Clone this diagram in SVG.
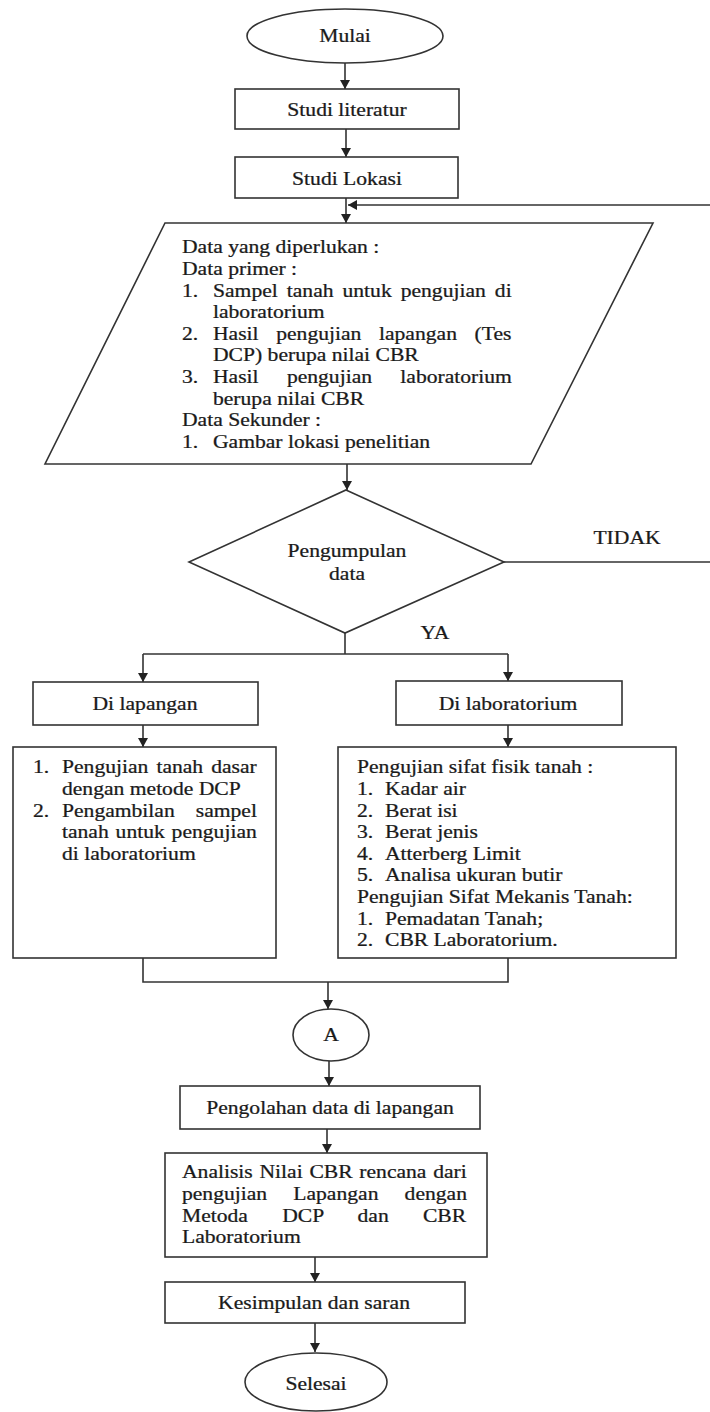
<svg xmlns="http://www.w3.org/2000/svg" width="710" height="1412" viewBox="0 0 710 1412">
<style>
.s{fill:#fff;stroke:#333;stroke-width:1.6}
.c{fill:none;stroke:#333;stroke-width:1.6}
text{font-family:"Liberation Serif","Times New Roman",serif;font-size:18px;fill:#1a1a1a;stroke:#1a1a1a;stroke-width:0.25}
.m{text-anchor:middle}
</style>
<defs>
<marker id="ah" markerUnits="userSpaceOnUse" markerWidth="10" markerHeight="11" refX="9" refY="5" orient="auto">
<path d="M0,0 L9,5 L0,10 Z" fill="#222"/>
</marker>
</defs>
<rect width="710" height="1412" fill="#fff"/>
<g id="connectors">
<line class="c" x1="345" y1="63" x2="345" y2="89" marker-end="url(#ah)"/>
<line class="c" x1="346" y1="129" x2="346" y2="157" marker-end="url(#ah)"/>
<line class="c" x1="346" y1="198" x2="346" y2="223" marker-end="url(#ah)"/>
<line class="c" x1="710" y1="205" x2="348" y2="205" marker-end="url(#ah)"/>
<line class="c" x1="347" y1="464" x2="347" y2="490" marker-end="url(#ah)"/>
<line class="c" x1="504" y1="562" x2="710" y2="562"/>
<polyline class="c" points="345,633 345,654"/>
<polyline class="c" points="143,654 508,654"/>
<line class="c" x1="143" y1="654" x2="143" y2="682" marker-end="url(#ah)"/>
<line class="c" x1="508" y1="654" x2="508" y2="681" marker-end="url(#ah)"/>
<line class="c" x1="143" y1="725" x2="143" y2="747" marker-end="url(#ah)"/>
<line class="c" x1="508" y1="725" x2="508" y2="747" marker-end="url(#ah)"/>
<polyline class="c" points="143,958 143,982 508,982 508,958"/>
<line class="c" x1="328" y1="982" x2="328" y2="1009" marker-end="url(#ah)"/>
<line class="c" x1="329" y1="1061" x2="329" y2="1086" marker-end="url(#ah)"/>
<line class="c" x1="327" y1="1129" x2="327" y2="1153" marker-end="url(#ah)"/>
<line class="c" x1="315" y1="1257" x2="315" y2="1282" marker-end="url(#ah)"/>
<line class="c" x1="315" y1="1323" x2="315" y2="1352" marker-end="url(#ah)"/>
</g>
<g id="mulai">
<ellipse class="s" cx="345" cy="36" rx="98" ry="27"/>
<g transform="scale(1.2 1)"><text class="m" x="287.5" y="42">Mulai</text></g>
</g>
<g id="studi-literatur">
<rect class="s" x="235" y="89" width="224" height="40"/>
<g transform="scale(1.2 1)"><text class="m" x="289.17" y="116">Studi literatur</text></g>
</g>
<g id="studi-lokasi">
<rect class="s" x="235" y="157" width="223" height="41"/>
<g transform="scale(1.2 1)"><text class="m" x="289.17" y="185">Studi Lokasi</text></g>
</g>
<g id="data">
<polygon class="s" points="165,223 653,223 531,464 45,464"/>
<g transform="scale(1.2 1)">
<text x="151.67" y="253.5">Data yang diperlukan :</text>
<text x="151.67" y="275.1">Data primer :</text>
<text x="151.67" y="296.7">1.</text>
<text x="177.5" y="296.7" style="word-spacing:3px">Sampel tanah untuk pengujian di</text>
<text x="177.5" y="318.3">laboratorium</text>
<text x="151.67" y="339.9">2.</text>
<text x="177.5" y="339.9" style="word-spacing:10.2px">Hasil pengujian lapangan (Tes</text>
<text x="177.5" y="361.5">DCP) berupa nilai CBR</text>
<text x="151.67" y="383.1">3.</text>
<text x="177.5" y="383.1" style="word-spacing:19.1px">Hasil pengujian laboratorium</text>
<text x="177.5" y="404.7">berupa nilai CBR</text>
<text x="151.67" y="426.3">Data Sekunder :</text>
<text x="151.67" y="447.9">1.</text>
<text x="177.5" y="447.9">Gambar lokasi penelitian</text>
</g>
</g>
<g id="pengumpulan">
<polygon class="s" points="346,490 504,562 345,633 189,562"/>
<g transform="scale(1.2 1)">
<text class="m" x="289.17" y="557">Pengumpulan</text>
<text class="m" x="289.17" y="580">data</text>
</g>
</g>
<g id="label-tidak"><g transform="scale(1.2 1)"><text class="m" x="522.5" y="544">TIDAK</text></g></g>
<g id="label-ya"><g transform="scale(1.2 1)"><text class="m" x="362.5" y="639">YA</text></g></g>
<g id="di-lapangan">
<rect class="s" x="33" y="682" width="225" height="43"/>
<g transform="scale(1.2 1)"><text class="m" x="120.83" y="710">Di lapangan</text></g>
</g>
<g id="di-laboratorium">
<rect class="s" x="396" y="681" width="226" height="44"/>
<g transform="scale(1.2 1)"><text class="m" x="423.33" y="710">Di laboratorium</text></g>
</g>
<g id="lapangan-detail">
<rect class="s" x="13" y="747" width="263" height="211"/>
<g transform="scale(1.2 1)">
<text x="27.5" y="773.5">1.</text>
<text x="51.67" y="773.5" style="word-spacing:2.2px">Pengujian tanah dasar</text>
<text x="51.67" y="795.1">dengan metode DCP</text>
<text x="27.5" y="816.7">2.</text>
<text x="51.67" y="816.7" style="word-spacing:13px">Pengambilan sampel</text>
<text x="51.67" y="838.3" style="word-spacing:1.2px">tanah untuk pengujian</text>
<text x="51.67" y="859.9">di laboratorium</text>
</g>
</g>
<g id="laboratorium-detail">
<rect class="s" x="338" y="747" width="338" height="211"/>
<g transform="scale(1.2 1)">
<text x="297.5" y="773.5">Pengujian sifat fisik tanah :</text>
<text x="297.5" y="795.1">1.</text><text x="320.83" y="795.1">Kadar air</text>
<text x="297.5" y="816.7">2.</text><text x="320.83" y="816.7">Berat isi</text>
<text x="297.5" y="838.3">3.</text><text x="320.83" y="838.3">Berat jenis</text>
<text x="297.5" y="859.9">4.</text><text x="320.83" y="859.9">Atterberg Limit</text>
<text x="297.5" y="881.5">5.</text><text x="320.83" y="881.5">Analisa ukuran butir</text>
<text x="297.5" y="903.1">Pengujian Sifat Mekanis Tanah:</text>
<text x="297.5" y="924.7">1.</text><text x="320.83" y="924.7">Pemadatan Tanah;</text>
<text x="297.5" y="946.3">2.</text><text x="320.83" y="946.3">CBR Laboratorium.</text>
</g>
</g>
<g id="konektor-a">
<ellipse class="s" cx="331" cy="1035" rx="38" ry="26"/>
<g transform="scale(1.2 1)"><text class="m" x="275.83" y="1041">A</text></g>
</g>
<g id="pengolahan">
<rect class="s" x="180" y="1086" width="300" height="43"/>
<g transform="scale(1.2 1)"><text class="m" x="275" y="1114">Pengolahan data di lapangan</text></g>
</g>
<g id="analisis">
<rect class="s" x="165" y="1153" width="322" height="104"/>
<g transform="scale(1.2 1)">
<text x="151.67" y="1178.5" style="word-spacing:1.1px">Analisis Nilai CBR rencana dari</text>
<text x="151.67" y="1200.1" style="word-spacing:17.3px">pengujian Lapangan dengan</text>
<text x="151.67" y="1221.7" style="word-spacing:24px">Metoda DCP dan CBR</text>
<text x="151.67" y="1243.3">Laboratorium</text>
</g>
</g>
<g id="kesimpulan">
<rect class="s" x="165" y="1282" width="300" height="41"/>
<g transform="scale(1.2 1)"><text class="m" x="261.67" y="1309">Kesimpulan dan saran</text></g>
</g>
<g id="selesai">
<ellipse class="s" cx="316" cy="1382" rx="71" ry="29"/>
<g transform="scale(1.2 1)"><text class="m" x="263.33" y="1390">Selesai</text></g>
</g>
</svg>
